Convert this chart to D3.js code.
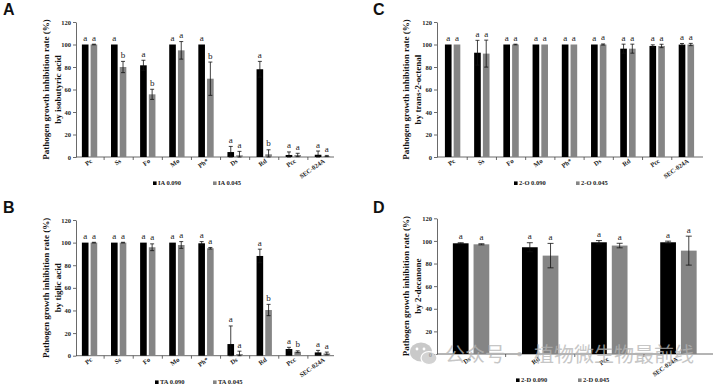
<!DOCTYPE html>
<html><head><meta charset="utf-8">
<script src="https://cdn.jsdelivr.net/npm/d3@7"></script>
<style>
html,body{margin:0;padding:0;background:#fff;}
svg{display:block;}
</style></head>
<body>
<svg id="chart" width="715" height="385"></svg>
<script>
// ---------- data ----------
const categoriesABC = ["Pc","Ss","Fo","Mo","Ph*","Ds","Rd","Pcc","SEC-024A"];
const categoriesD = ["Ds","Rd","Pcc","SEC-024A"];
const yTicks = [0,20,40,60,80,100,120];

const aHigh = [100,100,81.5,100,100,4.4,78,1.8,2];
const aHighErr = [0,0,4.5,0,0,5,7,2.7,3.3];
const aLow = [100,80,55.7,94.8,69.6,1.5,2.4,1.8,0.9];
const aLowErr = [0.3,5,4.5,7.8,14.8,3.5,4,1.5,0.5];
const aHighLetters = ["a","a","a","a","a","a","a","a","a"];
const aLowLetters = ["a","b","b","a","b","a","b","a","a"];

const bHigh = [100,100,100,100,99.4,10.3,88.2,5.9,2.9];
const bHighErr = [0,0,0,0,1.5,16,6,1.5,1.8];
const bLow = [100,100,95.9,97.9,95,1.5,40.4,3.5,2];
const bLowErr = [0.3,0.3,3,3,0.7,2.5,5,0.8,1.2];
const bHighLetters = ["a","a","a","a","a","a","a","a","a"];
const bLowLetters = ["a","a","a","a","a","a","b","b","a"];

const cHigh = [100,92.7,100,100,100,100,96.3,98.7,99.9];
const cHighErr = [0,11,0,0,0,0,4,1,1];
const cLow = [100,91.9,100,100,100,100,96.3,98.7,100];
const cLowErr = [0,12,0.3,0,0,0.5,4,1.5,1];
const cHighLetters = ["a","a","a","a","a","a","a","a","a"];
const cLowLetters = ["a","a","a","a","a","a","a","a","a"];

const dHigh = [97.9,94.4,98.8,98.8];
const dHighErr = [0.5,4,1.5,1];
const dLow = [97,87,95.9,91.4];
const dLowErr = [0.5,10.8,2,12.8];
const dHighLetters = ["a","a","a","a"];
const dLowLetters = ["a","a","a","a"];

const legendA = ["IA 0.090","IA 0.045"];
const legendB = ["TA 0.090","TA 0.045"];
const legendC = ["2-O 0.090","2-O 0.045"];
const legendD = ["2-D 0.090","2-D 0.045"];

const yTitle1 = "Pathogen growth inhibition rate (%)";
const yTitleA = "by isobutyric acid";
const yTitleB = "by tiglic acid";
const yTitleC = "by trans-2-octenal";
const yTitleD = "by 2-decanone";
const watermark = "公众号 · 植物微生物最前线";

// ---------- drawing ----------
const svg = d3.select("#chart");
const SERIF = "'Liberation Serif','Times New Roman',serif";
const colors = ["#000000","#858585"];

function panel(cfg){
  const g = svg.append("g");
  const y = d3.scaleLinear().domain([0,120]).range([cfg.y0, cfg.y1]);
  const x = d3.scaleBand().domain(cfg.cats).range([cfg.bx0, cfg.bx1]).paddingInner(0).paddingOuter(0);
  const xs = d3.scaleBand().domain([0,1]).range([0, x.bandwidth()]).paddingInner(0.24).paddingOuter(0.79);
  const axisCol = "#444";

  // panel letter
  g.append("text").attr("x", cfg.lx).attr("y", cfg.ly)
    .attr("font-family","'Liberation Sans',Arial,sans-serif").attr("font-weight","bold")
    .attr("font-size",16).attr("fill","#111").text(cfg.letter);

  // y axis
  const yAxis = d3.axisLeft(y).tickValues(yTicks).tickSize(3).tickSizeOuter(0).tickPadding(2);
  const ga = g.append("g").attr("transform",`translate(${cfg.ax},0)`).call(yAxis);
  ga.select(".domain").attr("stroke",axisCol).attr("stroke-width",0.8);
  ga.selectAll(".tick line").attr("stroke",axisCol).attr("stroke-width",0.8);
  ga.selectAll(".tick text").attr("font-family",SERIF).attr("font-weight","bold")
    .attr("font-size",6.5).attr("fill","#222");

  // x axis line and ticks at band boundaries
  g.append("line").attr("x1",cfg.ax).attr("x2",cfg.axEnd).attr("y1",y(0)).attr("y2",y(0))
    .attr("stroke",axisCol).attr("stroke-width",0.8);
  const bounds = cfg.cats.slice(1).map(c => x(c));
  g.selectAll(".xt").data(bounds).enter().append("line")
    .attr("x1",d=>d).attr("x2",d=>d).attr("y1",y(0)).attr("y2",y(0)+3)
    .attr("stroke",axisCol).attr("stroke-width",0.8);

  // x labels
  g.selectAll(".xl").data(cfg.cats).enter().append("text")
    .attr("transform", d => `translate(${x(d)+x.bandwidth()/2+cfg.labDx},${y(0)+cfg.labDy}) rotate(-35)`)
    .attr("text-anchor","end").attr("font-family",SERIF).attr("font-weight","bold")
    .attr("font-size",6.5).attr("fill","#222").text(d=>d);

  // bars
  const series = [cfg.high, cfg.low];
  const errs = [cfg.highErr, cfg.lowErr];
  const lets = [cfg.highLetters, cfg.lowLetters];
  series.forEach((vals, si) => {
    const bx = i => x(cfg.cats[i]) + xs(si);
    g.selectAll(".bar"+si).data(vals).enter().append("rect")
      .attr("x",(d,i)=>bx(i)).attr("width",xs.bandwidth())
      .attr("y",d=>y(d)).attr("height",d=>y(0)-y(d)).attr("fill",colors[si]);
    const cx = i => bx(i) + xs.bandwidth()/2;
    const ew = cfg.cap;
    vals.forEach((v,i) => {
      const e = errs[si][i];
      if (e > 0.25) {
        const top = y(v+e), bot = y(Math.max(0, v-e));
        g.append("line").attr("x1",cx(i)).attr("x2",cx(i)).attr("y1",top).attr("y2",bot)
          .attr("stroke","#111").attr("stroke-width",0.8);
        g.append("line").attr("x1",cx(i)-ew).attr("x2",cx(i)+ew).attr("y1",top).attr("y2",top)
          .attr("stroke","#111").attr("stroke-width",0.8);
        g.append("line").attr("x1",cx(i)-ew).attr("x2",cx(i)+ew).attr("y1",bot).attr("y2",bot)
          .attr("stroke","#111").attr("stroke-width",0.8);
      }
      g.append("text").attr("x",cx(i)).attr("y", y(v+e)-3.5)
        .attr("text-anchor","middle").attr("font-family",SERIF)
        .attr("font-size",9).attr("fill","#222").text(lets[si][i]);
    });
  });

  // y title
  const ymid = (cfg.y0+cfg.y1)/2;
  g.append("text").attr("transform",`translate(${cfg.tx1},${ymid}) rotate(-90)`)
    .attr("text-anchor","middle").attr("font-family",SERIF).attr("font-weight","bold")
    .attr("font-size",9).attr("fill","#111").text(yTitle1);
  g.append("text").attr("transform",`translate(${cfg.tx2},${ymid}) rotate(-90)`)
    .attr("text-anchor","middle").attr("font-family",SERIF).attr("font-weight","bold")
    .attr("font-size",9).attr("fill","#111").text(cfg.title2);

  // legend
  cfg.legend.forEach((t,i) => {
    const lx = cfg.legX[i];
    g.append("rect").attr("x",lx).attr("y",cfg.legY-3.6).attr("width",3.6).attr("height",3.6).attr("fill",colors[i]);
    g.append("text").attr("x",lx+5).attr("y",cfg.legY).attr("font-family",SERIF).attr("font-weight","bold")
      .attr("font-size",6.5).attr("fill","#222").text(t);
  });
}

panel({letter:"A", lx:3, ly:15, cats:categoriesABC, y0:157, y1:22, ax:76, axEnd:334, bx0:75, bx1:337,
  high:aHigh, highErr:aHighErr, low:aLow, lowErr:aLowErr, highLetters:aHighLetters, lowLetters:aLowLetters,
  cap:2, labDx:3, labDy:5, tx1:49, tx2:60.5, title2:yTitleA, legend:legendA, legX:[153,213], legY:185});
panel({letter:"B", lx:3, ly:213, cats:categoriesABC, y0:355.7, y1:220, ax:76, axEnd:334, bx0:75, bx1:337,
  high:bHigh, highErr:bHighErr, low:bLow, lowErr:bLowErr, highLetters:bHighLetters, lowLetters:bLowLetters,
  cap:2, labDx:3, labDy:5, tx1:49, tx2:60.5, title2:yTitleB, legend:legendB, legX:[155,213], legY:384});
panel({letter:"C", lx:373, ly:15, cats:categoriesABC, y0:157, y1:22, ax:437, axEnd:703, bx0:438, bx1:701,
  high:cHigh, highErr:cHighErr, low:cLow, lowErr:cLowErr, highLetters:cHighLetters, lowLetters:cLowLetters,
  cap:2, labDx:3, labDy:5, tx1:409, tx2:420.5, title2:yTitleC, legend:legendC, legX:[514,576], legY:185});
panel({letter:"D", lx:373, ly:213, cats:categoriesD, y0:354, y1:218.3, ax:437, axEnd:713, bx0:436.5, bx1:713,
  high:dHigh, highErr:dHighErr, low:dLow, lowErr:dLowErr, highLetters:dHighLetters, lowLetters:dLowLetters,
  cap:3, labDx:0, labDy:6, tx1:409, tx2:420.5, title2:yTitleD, legend:legendD, legX:[516,578], legY:382});

// watermark
const wm = svg.append("g").attr("opacity",0.75);
wm.append("ellipse").attr("cx",421).attr("cy",352).attr("rx",11).attr("ry",9.5).attr("fill","#b8b8b8");
wm.append("ellipse").attr("cx",429).attr("cy",358).attr("rx",8).attr("ry",6.5).attr("fill","#c4c4c4").attr("stroke","#fff").attr("stroke-width",1.2);
wm.append("circle").attr("cx",417).attr("cy",349).attr("r",1.4).attr("fill","#fff");
wm.append("circle").attr("cx",424).attr("cy",349).attr("r",1.4).attr("fill","#fff");
wm.append("text").attr("x",445).attr("y",362)
  .attr("font-family","'Noto Sans CJK SC',sans-serif").attr("font-size",20)
  .attr("fill","#b4b4b4").text(watermark);
</script>
</body></html>
